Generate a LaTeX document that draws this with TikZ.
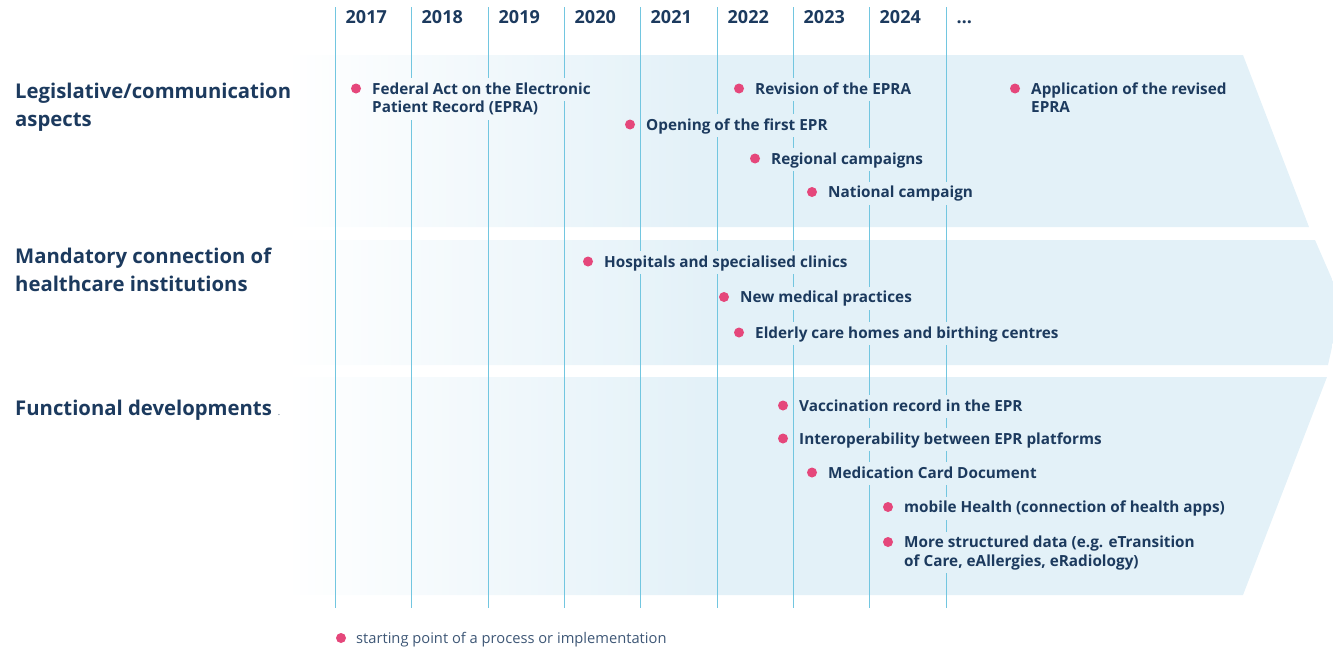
\documentclass[tikz,border=0pt]{standalone}
\usepackage{fontspec}
\setmainfont{Open Sans}

\definecolor{navy}{HTML}{1C3A5E}
\definecolor{pinkdot}{HTML}{E5477B}
\definecolor{gridcyan}{HTML}{72C6E0}
\definecolor{bandblue}{HTML}{E3F1F8}
\pgfdeclarehorizontalshading{bandfade}{100bp}{color(0bp)=(white); color(25bp)=(white); color(45bp)=(bandblue); color(100bp)=(bandblue)}
\pgfdeclarelayer{bands}
\pgfdeclarelayer{grid}
\pgfdeclarelayer{patch}
\pgfsetlayers{bands,grid,patch,main}

\tikzset{
  band/.style={shading=bandfade},
  bandone/.style={insert path={(285,55) -- (1243,55) -- (1309,227) -- (285,227) -- cycle}},
  bandtwo/.style={insert path={(285,240) -- (1315,240) -- (1342,302) -- (1328,365) -- (285,365) -- cycle}},
  bandthree/.style={insert path={(285,377) -- (1327,377) -- (1243,595) -- (285,595) -- cycle}},
  gridline/.style={gridcyan, line width=1.1pt},
  heading/.style={anchor=base west, inner sep=0pt, text=navy, font=\bfseries\fontsize{20.3}{24}\selectfont},
  yearlabel/.style={anchor=base west, inner sep=0pt, text=navy, font=\bfseries\fontsize{18}{22}\selectfont},
  eventtext/.style={anchor=base west, inner xsep=4pt, inner ysep=3pt, xshift=-4pt, text height=12pt, text depth=3.5pt, text=navy, font=\bfseries\fontsize{15.3}{18.5}\selectfont},
  evdot/.style={circle, fill=pinkdot, inner sep=0pt, minimum size=10pt},
  legendtext/.style={anchor=base west, inner sep=0pt, text=navy!85, font=\fontsize{14.7}{17}\selectfont}
}

\begin{document}
\begin{tikzpicture}[x=1pt,y=-1pt]
\useasboundingbox (0,0) rectangle (1333,648);

% bands
\begin{pgfonlayer}{bands}
  \shade[band,bandone];
  \shade[band,bandtwo];
  \shade[band,bandthree];
\end{pgfonlayer}

% row headings
\node (h1a) at (15,98) [heading] {Legislative/communication};
\node (h1b) at (15,126.5) [heading] {aspects};
\node (h2a) at (15,263.5) [heading] {Mandatory connection of};
\node (h2b) at (15,291.5) [heading] {healthcare institutions};
\node (h3) at (15,415) [heading] {Functional developments\hspace{6pt}{\mdseries\fontsize{9}{9}\selectfont\color{navy!70}.}};

% years and year lines
\foreach \x/\yr [count=\i] in {335.5/2017,411.5/2018,488.5/2019,564.5/2020,640.5/2021,717.5/2022,793.5/2023,869.5/2024,946.5/\ldots}{
  \node (yr\i) at (\x+10,23) [yearlabel] {\yr};
  \begin{pgfonlayer}{grid}
    \draw[gridline] (\x,7) -- (\x,608);
  \end{pgfonlayer}
}

% legislative / communication
\node (dt1) at (356,88.5) [evdot] {};
\node (ev1a) at (372,94) [eventtext] {Federal Act on the Electronic};
\node (ev1b) at (372,112.5) [eventtext] {Patient Record (EPRA)};
\node (dt2) at (739,88.5) [evdot] {};
\node (ev2) at (755,94) [eventtext] {Revision of the EPRA};
\node (dt3) at (1015,88.5) [evdot] {};
\node (ev3a) at (1031,94) [eventtext] {Application of the revised};
\node (ev3b) at (1031,112.5) [eventtext] {EPRA};
\node (dt4) at (630,124.5) [evdot] {};
\node (ev4) at (646,130) [eventtext] {Opening of the first EPR};
\node (dt5) at (755,158.5) [evdot] {};
\node (ev5) at (771,164) [eventtext] {Regional campaigns};
\node (dt6) at (812,192) [evdot] {};
\node (ev6) at (828,197.5) [eventtext] {National campaign};

% mandatory connection
\node (dt7) at (588,261.5) [evdot] {};
\node (ev7) at (604,267) [eventtext] {Hospitals and specialised clinics};
\node (dt8) at (724,297) [evdot] {};
\node (ev8) at (740,302.5) [eventtext] {New medical practices};
\node (dt9) at (739,332.5) [evdot] {};
\node (ev9) at (755,338) [eventtext] {Elderly care homes and birthing centres};

% functional developments
\node (dt10) at (783,405.5) [evdot] {};
\node (ev10) at (799,411) [eventtext] {Vaccination record in the EPR};
\node (dt11) at (783,438.5) [evdot] {};
\node (ev11) at (799,444) [eventtext] {Interoperability between EPR platforms};
\node (dt12) at (812,472.5) [evdot] {};
\node (ev12) at (828,478) [eventtext] {Medication Card Document};
\node (dt13) at (888,507) [evdot] {};
\node (ev13) at (904,512.5) [eventtext] {mobile Health (connection of health apps)};
\node (dt14) at (888,542) [evdot] {};
\node (ev14a) at (904,547.5) [eventtext] {More structured data (e.g. eTransition};
\node (ev14b) at (904,566) [eventtext] {of Care, eAllergies, eRadiology)};

% lines broken behind the texts: band fill again under each text
\begin{pgfonlayer}{patch}
  \foreach \n in {ev1a,ev1b,ev2,ev3a,ev3b,ev4,ev5,ev6,ev7,ev8,ev9,ev10,ev11,ev12,ev13,ev14a,ev14b}{
    \begin{scope}
      \clip (\n.south west) rectangle (\n.north east);
      \shade[band,bandone];
      \shade[band,bandtwo];
      \shade[band,bandthree];
    \end{scope}
  }
\end{pgfonlayer}

% legend
\node (lgdot) at (341,638) [evdot] {};
\node (lgtext) at (356,643) [legendtext] {starting point of a process or implementation};

\end{tikzpicture}
\end{document}
